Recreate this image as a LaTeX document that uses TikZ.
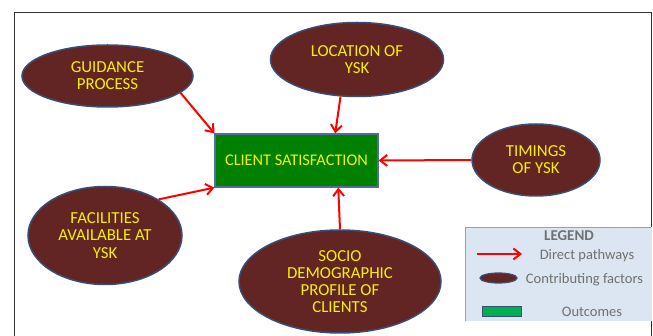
\documentclass[tikz,border=0pt]{standalone}
\usepackage{fontspec}
\setmainfont{Carlito}
\usetikzlibrary{shapes.geometric, arrows.meta, positioning}

\definecolor{factorfill}{HTML}{632523}
\definecolor{factorline}{HTML}{3A4E74}
\definecolor{outfill}{HTML}{008000}
\definecolor{boxline}{HTML}{4F6FA0}
\definecolor{legfill}{HTML}{DCE6F2}
\definecolor{legline}{HTML}{8EA3C0}
\definecolor{legtext}{HTML}{707070}
\definecolor{legout}{HTML}{00B050}
\definecolor{satyellow}{HTML}{F2F200}

\begin{document}
\begin{tikzpicture}[
    x=1pt, y=-1pt,
    font=\fontsize{16.8}{17.2}\selectfont,
    >={Straight Barb[length=7pt,width=11pt]},
    % --- styles ---
    % contributing factors: maroon ellipses
    factor/.style={ellipse, draw=factorline, line width=1.5pt, fill=factorfill, text=satyellow, align=center, inner sep=0pt},
    % outcome: green box
    outcome/.style={rectangle, draw=boxline, line width=1.2pt, fill=outfill, text=satyellow, font=\fontsize{16.3}{17}\selectfont, minimum width=163pt, minimum height=53pt},
    % direct pathways
    pathway/.style={->, red, line width=2pt},
    % legend text
    legtxt/.style={text=legtext, font=\fontsize{14.5}{17}\selectfont, anchor=base, inner sep=0pt}
]
\useasboundingbox (0,0) rectangle (653,336);

% --- 1. Frame ---
\draw[line width=1pt, black!80] (14,336) -- (14,13) -- (651.5,13) -- (651.5,336);

% --- 2. Outcome and factors ---
\node[outcome] (CSat) at (296.5,160.5) {CLIENT SATISFACTION};

\node[factor, minimum width=171pt, minimum height=62pt] (Guid) at (107.5,76) {GUIDANCE\\PROCESS};
\node[factor, minimum width=173pt, minimum height=74pt] (Loc) at (357,59.5) {LOCATION OF\\YSK};
\node[factor, minimum width=128pt, minimum height=72pt] (Tim) at (536,160) {TIMINGS\\OF YSK};
\node[factor, minimum width=154pt, minimum height=98pt] (Fac) at (105,235.5) {FACILITIES\\AVAILABLE AT\\YSK};
\node[factor, minimum width=202pt, minimum height=103pt] (Socio) at (340,281.5) {SOCIO\\DEMOGRAPHIC\\PROFILE OF\\CLIENTS};

% --- 3. Direct pathways ---
\draw[pathway] (Guid.-13) -- (CSat.north west);
\draw[pathway] (Loc.-114) -- (CSat.35);
\draw[pathway] (Tim.west) -- (CSat.east);
\draw[pathway] (Fac.34) -- (CSat.south west);
\draw[pathway] (Socio.north) -- (CSat.-33);

% --- 4. Legend ---
\fill[legfill] (465.5,227.5) rectangle (651.5,321.5);
\draw[legline, line width=1.5pt] (465.5,321.5) -- (465.5,227.5) -- (651,227.5);

\node[legtxt, font=\fontsize{15}{17}\selectfont\bfseries] (LegT) at (569,240.7) {LEGEND};

\coordinate (LegA) at (477,254);
\coordinate (LegB) at (522,254);
\draw[pathway] (LegA) -- (LegB);
\node[legtxt] (LegD) at (587,259.5) {Direct pathways};

\node[factor, minimum width=37pt, minimum height=10pt, line width=1.2pt] (LegF) at (498.5,278) {};
\node[legtxt] (LegC) at (584.5,283.3) {Contributing factors};

\node[draw=factorline, line width=1pt, fill=legout, minimum width=39pt, minimum height=10pt, inner sep=0pt] (LegO) at (501.5,312) {};
\node[legtxt] (LegOut) at (592,316.7) {Outcomes};

\end{tikzpicture}
\end{document}
